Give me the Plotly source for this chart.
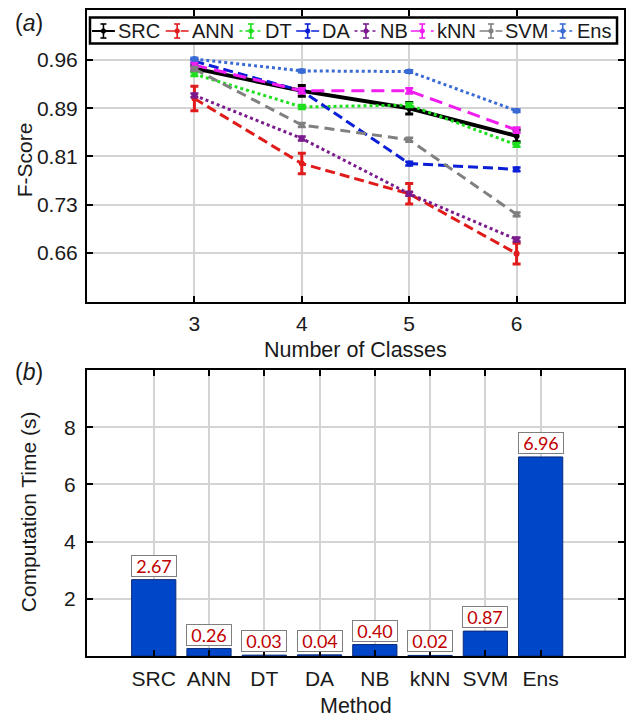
import plotly.graph_objects as go

# ---------------- data ----------------
classes = [3, 4, 5, 6]
series_names = ["SRC", "ANN", "DT", "DA", "NB", "kNN", "SVM", "Ens"]
src = [0.947, 0.912, 0.885, 0.842]
ann = [0.900, 0.799, 0.752, 0.659]
dt = [0.938, 0.887, 0.890, 0.828]
da = [0.958, 0.912, 0.799, 0.790]
nb = [0.905, 0.838, 0.752, 0.681]
knn = [0.952, 0.912, 0.912, 0.851]
svm = [0.946, 0.859, 0.836, 0.720]
ens = [0.9615, 0.943, 0.942, 0.881]
src_err = [0.004, 0.0085, 0.009, 0.009]
ann_err = [0.019, 0.016, 0.016, 0.016]
dt_err = [0.003, 0.003, 0.003, 0.003]
da_err = [0.003, 0.003, 0.003, 0.003]
nb_err = [0.003, 0.003, 0.003, 0.003]
knn_err = [0.004, 0.004, 0.004, 0.004]
svm_err = [0.003, 0.003, 0.003, 0.003]
ens_err = [0.002, 0.002, 0.002, 0.002]

methods = ["SRC", "ANN", "DT", "DA", "NB", "kNN", "SVM", "Ens"]
comp_time = [2.67, 0.26, 0.03, 0.04, 0.40, 0.02, 0.87, 6.96]

fscore_tickvals = [0.66, 0.735, 0.81, 0.885, 0.96]
fscore_ticktext = ["0.66", "0.73", "0.81", "0.89", "0.96"]
time_tickvals = [2, 4, 6, 8]

# ---------------- styles ----------------
values = [src, ann, dt, da, nb, knn, svm, ens]
errors = [src_err, ann_err, dt_err, da_err, nb_err, knn_err, svm_err, ens_err]
colors = ["#000000", "#e01b1b", "#1fe01f", "#0a1fd6", "#7a1a8c", "#f01cf0", "#808080", "#3a6bd4"]
dashes = ["solid", "10px,5px", "3px,3px", "10px,5px", "3px,3px", "13px,7px", "10px,6px", "3px,3px"]
widths = [4, 3, 3, 3, 3, 3, 3, 3]

FONT = "Liberation Sans, Arial, sans-serif"
W, H = 628, 717
L, R, T, B = 87, 626, 10, 656


def px_x(px):
    return (px - L) / (R - L)


def px_y(py):
    return (B - py) / (B - T)


fig = go.Figure()

for name, v, e, c, d, w in zip(series_names, values, errors, colors, dashes, widths):
    fig.add_trace(go.Scatter(
        x=classes, y=v, name=name, mode="lines+markers",
        line=dict(color=c, width=w, dash=d),
        marker=dict(color=c, size=6, symbol="circle"),
        error_y=dict(type="data", array=e, visible=True, color=c,
                     thickness=3 if name in ("SRC", "ANN") else 2.5, width=4),
        xaxis="x", yaxis="y", showlegend=False,
    ))

fig.add_trace(go.Bar(
    x=methods, y=comp_time, xaxis="x2", yaxis="y2", width=0.8,
    marker=dict(color="#0046c8", line=dict(color="#0b2a7a", width=1)),
    showlegend=False,
))

axis_common = dict(
    showline=True, linecolor="black", linewidth=2, mirror="ticks",
    ticks="inside", ticklen=6, tickwidth=2, tickcolor="black",
    showgrid=True, gridcolor="#d4d4d4", gridwidth=1.5, zeroline=False,
    tickfont=dict(family=FONT, size=21, color="#1a1a1a"),
)

fig.update_layout(
    width=W, height=H,
    margin=dict(l=L, r=W - R, t=T, b=H - B),
    paper_bgcolor="white", plot_bgcolor="white",
    xaxis=dict(domain=[0, 1], range=[2, 7], tickvals=classes, anchor="y",
               ticklabelstandoff=2, **axis_common),
    yaxis=dict(domain=[px_y(302), 1], range=[0.5838, 1.0377], tickvals=fscore_tickvals,
               ticktext=fscore_ticktext, anchor="x", ticklabelstandoff=3, **axis_common),
    xaxis2=dict(domain=[0, 1], range=[-1.207, 8.508], type="category", anchor="y2",
                ticklabelstandoff=3, **axis_common),
    yaxis2=dict(domain=[0, px_y(370)], range=[0, 10], tickvals=time_tickvals, anchor="x2",
                ticklabelstandoff=5, **axis_common),
    bargap=0.2,
)

annotations = []
shapes = []

# bar value labels
for m, t in zip(methods, comp_time):
    annotations.append(dict(
        x=m, y=t, xref="x2", yref="y2", text=f"{t:.2f}", showarrow=False,
        xanchor="center", yanchor="bottom", yshift=3, width=42, height=18,
        font=dict(family="Lato, Open Sans, sans-serif", size=18, color="#c00000"),
        bgcolor="white", bordercolor="#7f7f7f", borderwidth=1, borderpad=1,
    ))


def label(px, py, text, size=21, angle=0):
    return dict(x=px_x(px), y=px_y(py), xref="paper", yref="paper", text=text,
                textangle=angle, xanchor="center", yanchor="middle", showarrow=False,
                font=dict(family=FONT, size=size, color="#1a1a1a"))


# panel letters and axis titles
annotations += [
    label(29, 23, "(<i>a</i>)", 23),
    label(29, 372, "(<i>b</i>)", 23),
    label(24, 160, "F-Score", 21, -90),
    label(356, 350, "Number of Classes", 21.5),
    label(28, 512, "Computation Time (s)", 21, -90),
    label(357, 706, "Method", 21.5),
]

# custom legend box
shapes.append(dict(type="rect", xref="paper", yref="paper",
                   x0=px_x(90), x1=px_x(619), y0=px_y(43.5), y1=px_y(17.5),
                   line=dict(color="black", width=2.5), fillcolor="white", layer="above"))
legend_starts = [92, 166, 240, 297, 355.5, 412, 481, 553]
ly = 31
for name, s, c, d, w in zip(series_names, legend_starts, colors, dashes, widths):
    lw = 2 if name == "SRC" else 1.6
    shapes.append(dict(type="line", xref="paper", yref="paper",
                       x0=px_x(s), x1=px_x(s + 23), y0=px_y(ly), y1=px_y(ly),
                       line=dict(color=c, width=lw, dash=d if name != "SRC" else "solid"),
                       layer="above"))
    cx = s + 11.5
    shapes.append(dict(type="line", xref="paper", yref="paper",
                       x0=px_x(cx), x1=px_x(cx), y0=px_y(ly - 7), y1=px_y(ly + 7),
                       line=dict(color=c, width=1.6), layer="above"))
    for yy in (ly - 7, ly + 7):
        shapes.append(dict(type="line", xref="paper", yref="paper",
                           x0=px_x(cx - 3), x1=px_x(cx + 3), y0=px_y(yy), y1=px_y(yy),
                           line=dict(color=c, width=1.6), layer="above"))
    shapes.append(dict(type="circle", xref="paper", yref="paper",
                       x0=px_x(cx - 2.2), x1=px_x(cx + 2.2), y0=px_y(ly + 2.2), y1=px_y(ly - 2.2),
                       line=dict(color=c, width=1), fillcolor=c, layer="above"))
    annotations.append(dict(x=px_x(s + 24), y=px_y(ly), xref="paper", yref="paper",
                            text=name, xanchor="left", yanchor="middle", showarrow=False,
                            font=dict(family=FONT, size=20, color="#1a1a1a")))

fig.update_layout(annotations=annotations, shapes=shapes)

fig.write_html("out.html")
